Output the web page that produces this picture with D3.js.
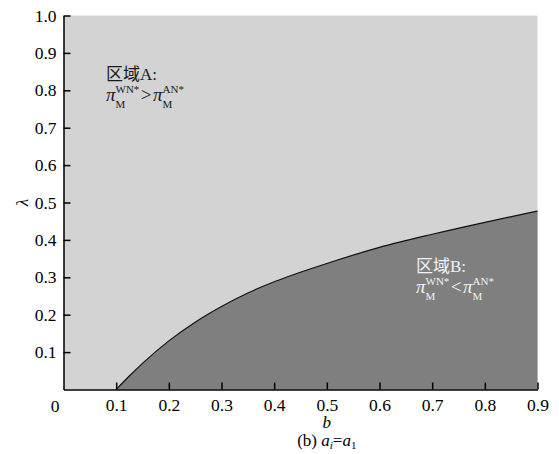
<!DOCTYPE html>
<html>
<head>
<meta charset="utf-8">
<script src="https://cdn.jsdelivr.net/npm/d3@7"></script>
<style>
  html, body { margin: 0; padding: 0; background: #fff; }
  svg { display: block; }
  text { font-family: "Liberation Serif", "Noto Sans CJK SC", serif; }
</style>
</head>
<body>
<svg id="chart" width="559" height="454"></svg>
<script>
// Boundary curve λ(b) separating region A (above) and region B (below)
const bValues      = [0.1, 0.125, 0.15, 0.2, 0.25, 0.3, 0.35, 0.4, 0.5, 0.6, 0.7, 0.8, 0.9];
const lambdaValues = [0, 0.036, 0.07, 0.13, 0.18, 0.222, 0.258, 0.288, 0.337, 0.38, 0.415, 0.447, 0.477];
const xTicks = [0.1, 0.2, 0.3, 0.4, 0.5, 0.6, 0.7, 0.8, 0.9];
const yTicks = [0.1, 0.2, 0.3, 0.4, 0.5, 0.6, 0.7, 0.8, 0.9, 1.0];

const svg = d3.select("#chart");
const plotLeft = 63.5, plotRight = 537.5, plotTop = 15.5, plotBottom = 389.5;

const x = d3.scaleLinear().domain([0, 0.9]).range([plotLeft, plotRight]);
const y = d3.scaleLinear().domain([0, 1]).range([plotBottom, plotTop]);

const curvePts = bValues.map((b, i) => [b, lambdaValues[i]]);

// Region A background
svg.append("rect")
  .attr("x", plotLeft).attr("y", plotTop)
  .attr("width", plotRight - plotLeft).attr("height", plotBottom - plotTop)
  .attr("fill", "#d3d3d3");

// Region B: area under the boundary curve
const area = d3.area()
  .x(d => x(d[0])).y0(y(0)).y1(d => y(d[1]))
  .curve(d3.curveMonotoneX);
svg.append("path").datum(curvePts)
  .attr("d", area).attr("fill", "#7f7f7f");

const line = d3.line()
  .x(d => x(d[0])).y(d => y(d[1]))
  .curve(d3.curveMonotoneX);
svg.append("path").datum(curvePts)
  .attr("d", line).attr("fill", "none")
  .attr("stroke", "#111").attr("stroke-width", 1.2);

// Axes with inward ticks
const xAxis = d3.axisBottom(x).tickValues(xTicks).tickSizeInner(-7).tickSizeOuter(0)
  .tickPadding(14).tickFormat(d3.format(".1f"));
const gx = svg.append("g").attr("transform", `translate(0,${plotBottom})`).call(xAxis);
const yAxis = d3.axisLeft(y).tickValues(yTicks).tickSizeInner(-7).tickSizeOuter(0)
  .tickPadding(14).tickFormat(d3.format(".1f"));
const gy = svg.append("g").attr("transform", `translate(${plotLeft},0)`).call(yAxis);

[gx, gy].forEach(g => {
  g.attr("font-family", "Liberation Serif").attr("font-size", 17);
  g.selectAll(".domain").attr("stroke", "#000").attr("stroke-width", 1.5);
  g.selectAll(".tick line").attr("stroke", "#000").attr("stroke-width", 1.5);
  g.selectAll(".tick text").attr("fill", "#000")
    .style("font-family", "'Liberation Serif', serif").style("font-size", "17.5px");
});
gx.selectAll(".tick text").attr("dy", "0.71em").attr("y", 9);
gy.selectAll(".tick text").attr("x", -7);

// Shared origin label
svg.append("text").attr("x", 55).attr("y", 412)
  .attr("text-anchor", "middle").style("font-size", "17.5px").text("0");

// Axis titles
svg.append("text").attr("x", x(0.5)).attr("y", 428)
  .attr("text-anchor", "middle").style("font-size", "17px")
  .style("font-style", "italic").text("b");

const cap = svg.append("text").attr("x", x(0.5)).attr("y", 446)
  .attr("text-anchor", "middle").style("font-size", "17px");
cap.append("tspan").text("(b) ");
cap.append("tspan").style("font-style", "italic").text("a");
cap.append("tspan").style("font-style", "italic").style("font-size", "11px").attr("dy", 3).text("i");
cap.append("tspan").attr("dy", -3).text("=");
cap.append("tspan").style("font-style", "italic").text("a");
cap.append("tspan").style("font-size", "11px").attr("dy", 3).text("1");

svg.append("text")
  .attr("transform", `translate(22,${y(0.5)}) rotate(-90)`)
  .attr("text-anchor", "middle").attr("dy", "0.35em")
  .style("font-size", "17px").style("font-style", "italic").text("λ");

// Region labels: π_M^{WN*} vs π_M^{AN*}
function piTerm(g, x0, base, sup, color) {
  const p = g.append("text").attr("x", x0).attr("y", base)
    .attr("fill", color).style("font-size", "19px").style("font-style", "italic").text("π");
  const pw = p.node().getComputedTextLength();
  const s = g.append("text").attr("x", x0 + pw).attr("y", base - 8)
    .attr("fill", color).style("font-size", "11px").text(sup);
  g.append("text").attr("x", x0 + pw).attr("y", base + 7)
    .attr("fill", color).style("font-size", "11px").text("M");
  return x0 + pw + s.node().getComputedTextLength();
}
function regionLabel(x0, y0, title, rel, color) {
  const g = svg.append("g");
  g.append("text").attr("x", x0).attr("y", y0)
    .attr("fill", color).style("font-size", "17px").text(title);
  const base = y0 + 21;
  let cx = piTerm(g, x0, base, "WN*", color);
  const r = g.append("text").attr("x", cx + 1.5).attr("y", base)
    .attr("fill", color).style("font-size", "19px").text(rel);
  cx += 3 + r.node().getComputedTextLength();
  piTerm(g, cx, base, "AN*", color);
}
regionLabel(106, 80, "区域A:", ">", "#1a1a1a");
regionLabel(416, 272, "区域B:", "<", "#f2f2f2");
</script>
</body>
</html>
